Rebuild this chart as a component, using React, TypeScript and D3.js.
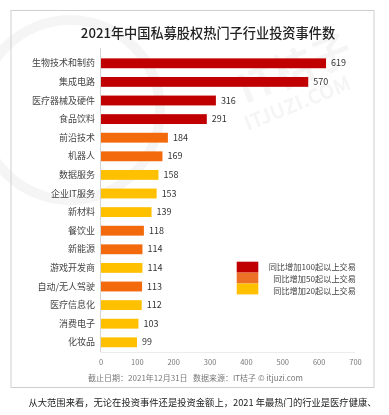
import React from "react";
import * as d3 from "d3";

const categories = [
  "生物技术和制药", "集成电路", "医疗器械及硬件", "食品饮料", "前沿技术", "机器人",
  "数据服务", "企业IT服务", "新材料", "餐饮业", "新能源", "游戏开发商",
  "自动/无人驾驶", "医疗信息化", "消费电子", "化妆品",
];
const values = [619, 570, 316, 291, 184, 169, 158, 153, 139, 118, 114, 114, 113, 112, 103, 99];
// 0 = 100+ YoY increase, 1 = 50+, 2 = 20+
const groups = [0, 0, 0, 0, 1, 1, 2, 2, 2, 1, 1, 2, 1, 2, 2, 2];
const legendLabels = ["同比增加100起以上交易", "同比增加50起以上交易", "同比增加20起以上交易"];
const colors = ["#C00000", "#F26A0C", "#FFC000"];
const legendColors = ["#C00000", "#EC7026", "#FFC000"];
const xTicks = [0, 100, 200, 300, 400, 500, 600, 700];

const title = "2021年中国私募股权热门子行业投资事件数";
const footer = "截止日期：2021年12月31日   数据来源：IT桔子 © itjuzi.com";
const caption = "从大范围来看，无论在投资事件还是投资金额上，2021 年最热门的行业是医疗健康、";

const FONT = "'Noto Sans CJK SC', 'Noto Sans', sans-serif";

export default function App() {
  const W = 389, H = 415;
  const x = d3.scaleLinear().domain([0, 700]).range([101, 355.5]);
  const y = d3.scaleBand<string>().domain(categories).range([54, 351.6]).paddingInner(0.47).paddingOuter(0.235);
  const bw = y.bandwidth();

  return (
    <svg width={W} height={H} style={{ position: "absolute", left: 0, top: 0, background: "#fff" }}>
      {/* watermark */}
      <g opacity={0.04} fontFamily={FONT} fill="#000">
        <text x={300} y={110} fontSize={20} transform="rotate(-22 300 110)" textAnchor="middle" fontWeight="bold">ITJUZI.COM</text>
        <text x={300} y={82} fontSize={40} transform="rotate(-22 300 82)" textAnchor="middle" fontWeight="bold">IT桔子</text>
        <circle cx={70} cy={110} r={90} fill="none" stroke="#000" strokeWidth={10} />
      </g>
      {/* frame */}
      <rect x={11} y={10.5} width={363} height={377} fill="none" stroke="#cfcfcf" strokeWidth={1} />
      <text x={208} y={38} textAnchor="middle" fontFamily={FONT} fontSize={13.2} fontWeight={500} fill="#222">{title}</text>

      {/* axis lines */}
      <line x1={100.5} x2={100.5} y1={48} y2={352} stroke="#d4d4d4" strokeWidth={1} />
      <line x1={100.5} x2={355} y1={352.5} y2={352.5} stroke="#ececec" strokeWidth={1} />

      {categories.map((c, i) => {
        const yy = y(c)!;
        const cy = yy + bw / 2;
        return (
          <g key={c}>
            <rect x={x(0)} y={yy} width={x(values[i]) - x(0)} height={bw} fill={colors[groups[i]]} />
            <text x={95} y={cy} dy="0.35em" textAnchor="end" fontFamily={FONT} fontSize={9} fill="#444">{c}</text>
            <text x={x(values[i]) + 5} y={cy} dy="0.35em" fontFamily={FONT} fontSize={9} fill="#333">{values[i]}</text>
          </g>
        );
      })}

      {xTicks.map((t) => (
        <text key={t} x={x(t)} y={362} dy="0.35em" textAnchor="middle" fontFamily={FONT} fontSize={7.5} fill="#777">{t}</text>
      ))}

      {/* legend */}
      {legendLabels.map((l, i) => (
        <g key={l}>
          <rect x={236.7} y={261.7 + i * 10.9} width={21.6} height={10.9} fill={legendColors[i]} />
          <text x={356} y={267.2 + i * 11.8} dy="0.35em" textAnchor="end" fontFamily={FONT} fontSize={8.2} fill="#444">{l}</text>
        </g>
      ))}

      <text x={195.5} y={378} dy="0.35em" textAnchor="middle" fontFamily={FONT} fontSize={8} fill="#777" style={{ whiteSpace: "pre" }}>{footer}</text>
      <text x={202.5} y={403} dy="0.35em" textAnchor="middle" fontFamily={FONT} fontSize={9.3} fill="#222">{caption}</text>
    </svg>
  );
}
